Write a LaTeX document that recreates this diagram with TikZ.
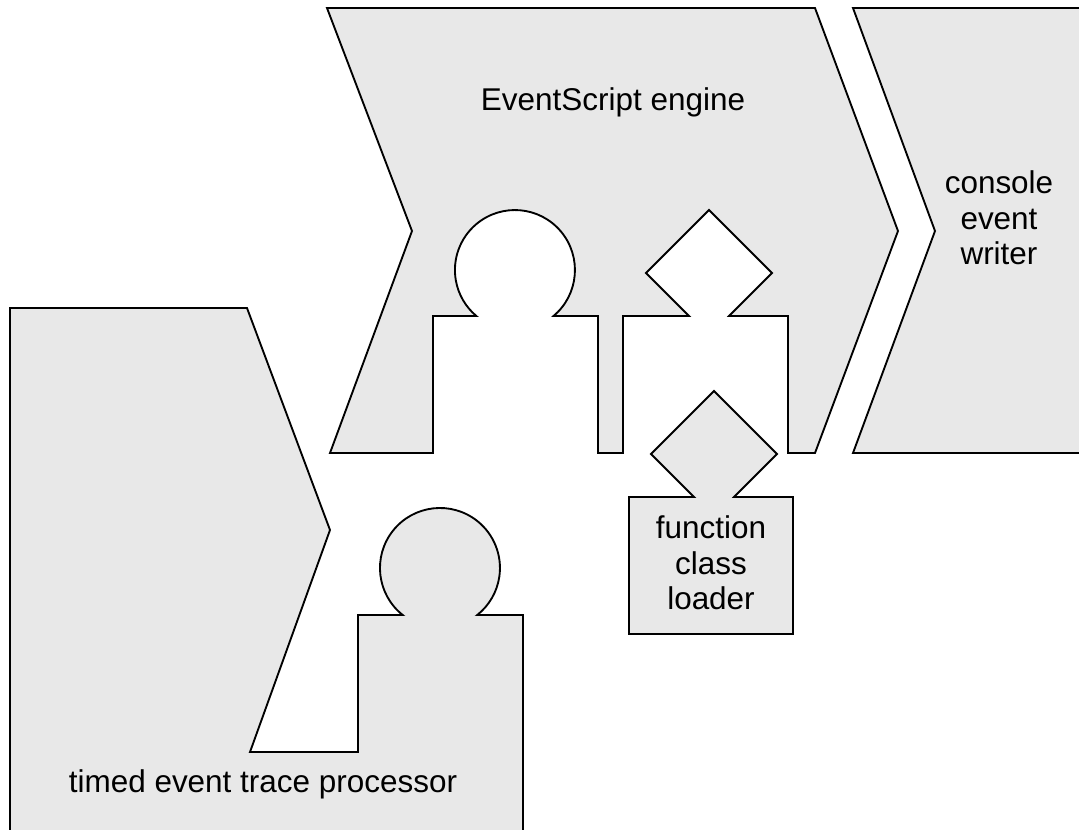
\documentclass[tikz,border=0pt]{standalone}
\usepackage{fontspec}
\setmainfont{Liberation Sans}
\definecolor{partfill}{RGB}{232,232,232}
\tikzset{
  part/.style={fill=partfill, draw=black, line width=1.4pt, line join=miter},
  rim/.style={draw=black, line width=1.4pt, line join=miter},
  label/.style={font=\fontsize{23.6}{26.5}\selectfont, align=center, inner sep=0pt},
}
\begin{document}
\begin{tikzpicture}[x=0.75pt, y=-0.75pt]
\useasboundingbox (0,0) rectangle (1079,829);

% EventScript engine: chevron with a round socket and a diamond socket
\path[part] (327,8) -- (815,8) -- (898,231) -- (815,453) -- (788,453) -- (788,316)
  -- (729,316) -- (772,273) -- (709,210) -- (646,273) -- (689,316) -- (623,316)
  -- (623,453) -- (598,453) -- (598,316) -- (553.5,316)
  arc[start angle=50, end angle=-230, radius=60]
  -- (433,316) -- (433,453) -- (330,453) -- (412,231) -- cycle;
\node[label] (engine) at (613,102) {EventScript engine};

% console event writer
\path[fill=partfill] (853,8) -- (1080,8) -- (1080,453) -- (853,453) -- (935,231) -- cycle;
\path[rim] (1080,8) -- (853,8) -- (935,231) -- (853,453) -- (1080,453);
\node[label] (writer) at (999,218) {console\\event\\writer};

% function class loader: box with a diamond plug
\path[part] (629,497) -- (694,497) -- (651,454) -- (714,391) -- (777,454)
  -- (734,497) -- (793,497) -- (793,634) -- (629,634) -- cycle;
\node[label] (loader) at (711,563) {function\\class\\loader};

% timed event trace processor: notched block with a round plug
\path[fill=partfill] (10,308) -- (247,308) -- (330,530) -- (250,752) -- (358,752)
  -- (358,615) -- (402.7,615) arc[start angle=128.4, end angle=411.6, radius=60]
  -- (523,615) -- (523,830) -- (10,830) -- cycle;
\path[rim] (10,830) -- (10,308) -- (247,308) -- (330,530) -- (250,752) -- (358,752)
  -- (358,615) -- (402.7,615) arc[start angle=128.4, end angle=411.6, radius=60]
  -- (523,615) -- (523,830);
\node[label] (tracer) at (263,784) {timed event trace processor};
\end{tikzpicture}
\end{document}
